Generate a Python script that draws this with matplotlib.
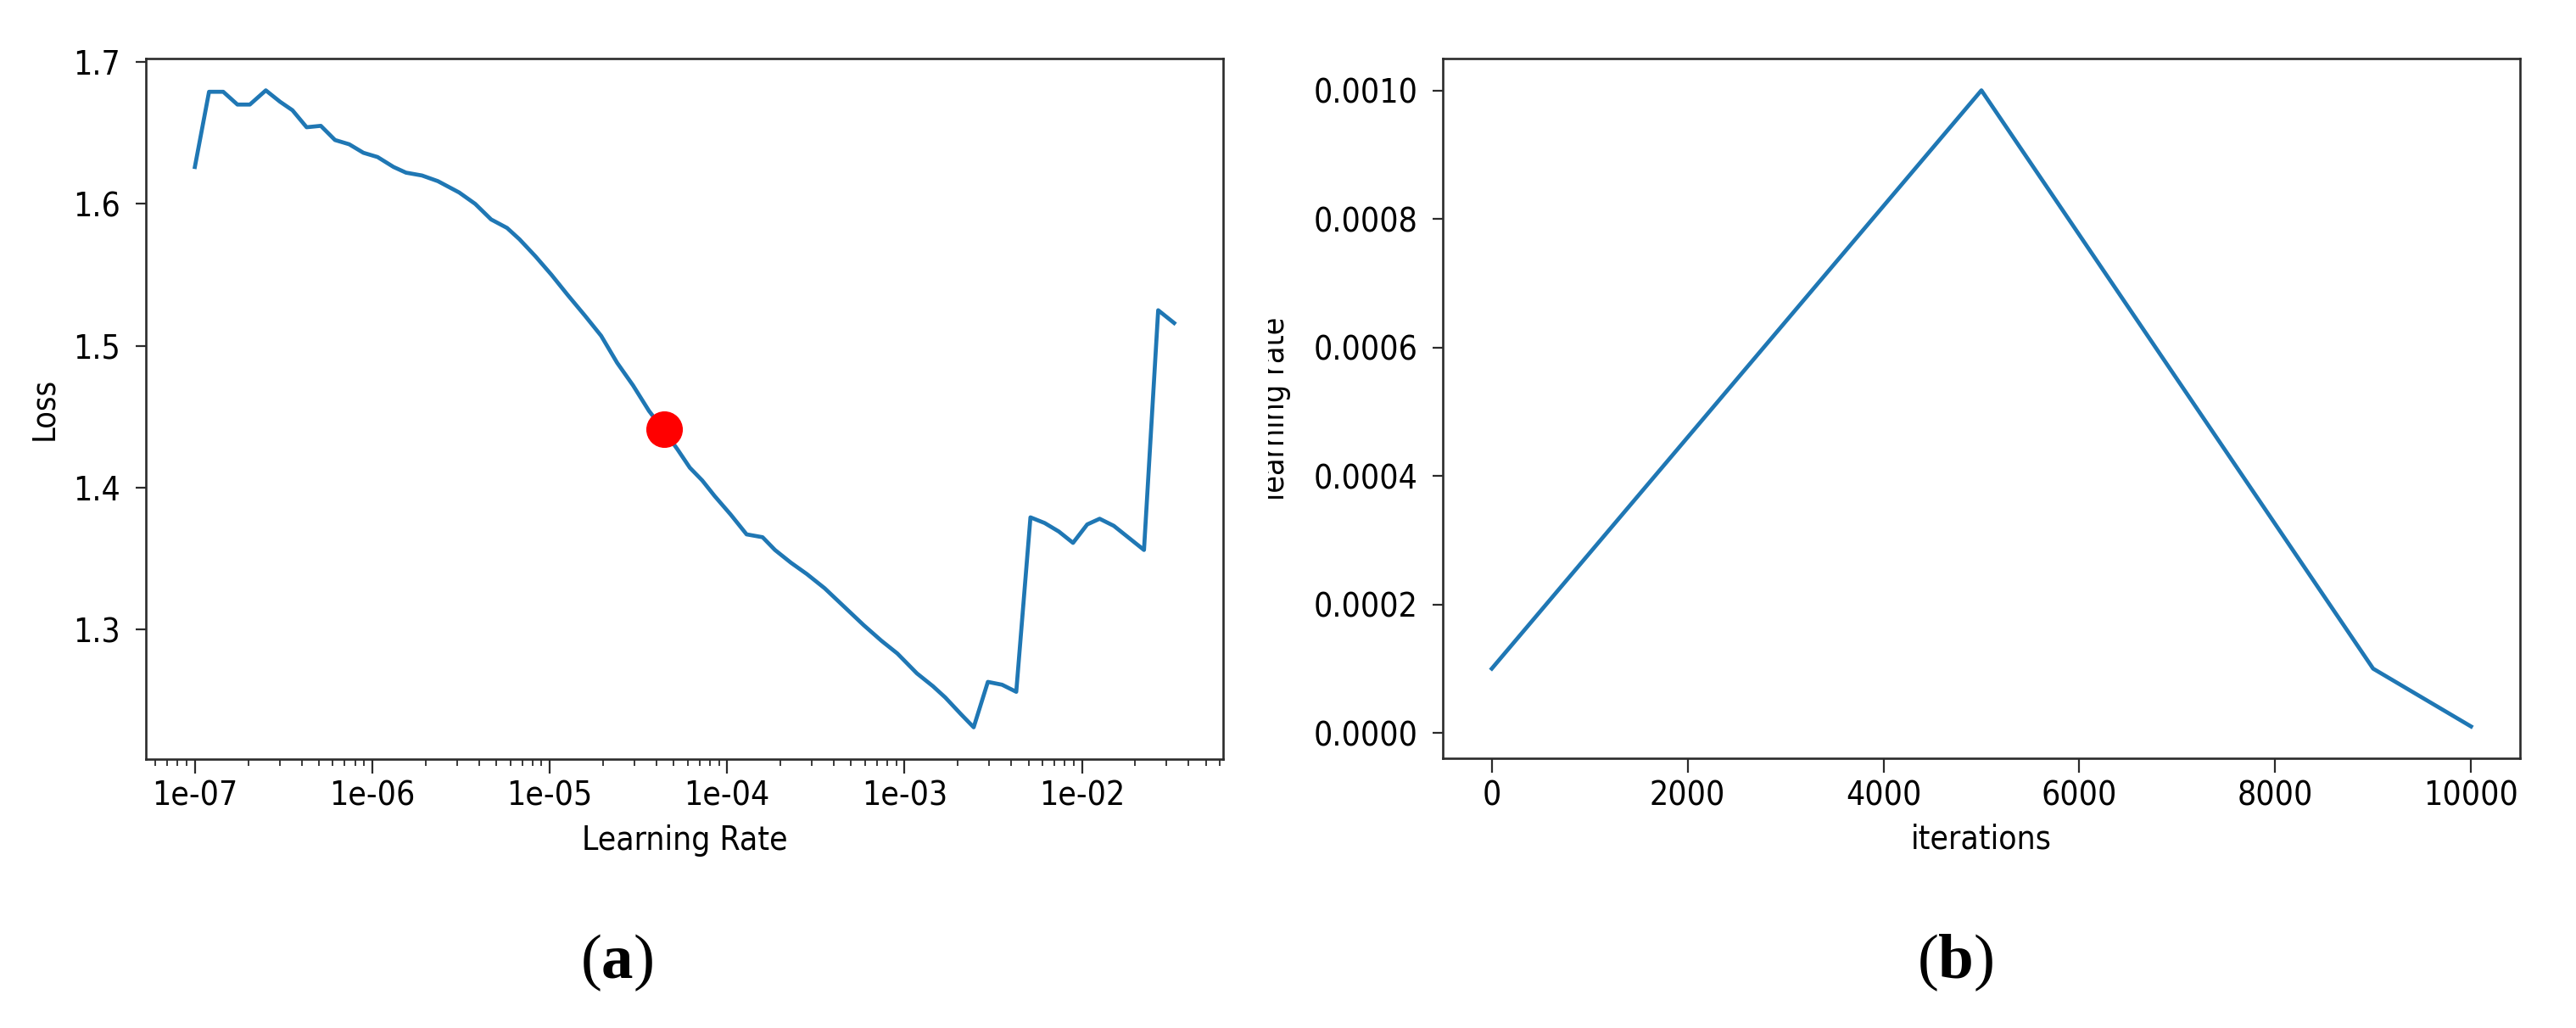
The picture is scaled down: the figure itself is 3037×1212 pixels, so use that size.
import matplotlib
matplotlib.use("Agg")
import matplotlib.pyplot as plt
from matplotlib.ticker import LogLocator, NullFormatter, FormatStrFormatter
from matplotlib.transforms import Bbox, TransformedBbox
import numpy as np

# Dados (a): log10 da taxa de aprendizado e perda
log_lr = [-7.00, -6.92, -6.84, -6.76, -6.69, -6.60, -6.52, -6.45, -6.37, -6.29,
          -6.21, -6.13, -6.05, -5.97, -5.88, -5.81, -5.72, -5.63, -5.51, -5.42,
          -5.33, -5.24, -5.17, -5.08, -4.99, -4.90, -4.80, -4.71, -4.62, -4.53,
          -4.44, -4.36, -4.28, -4.21, -4.14, -4.07, -3.98, -3.89, -3.80, -3.73,
          -3.64, -3.55, -3.45, -3.34, -3.23, -3.13, -3.04, -2.93, -2.84, -2.77,
          -2.68, -2.61, -2.53, -2.45, -2.37, -2.29, -2.21, -2.13, -2.05, -1.97,
          -1.90, -1.82, -1.74, -1.65, -1.57, -1.48]
loss = [1.626, 1.679, 1.679, 1.670, 1.670, 1.680, 1.672, 1.666, 1.654, 1.655,
        1.645, 1.642, 1.636, 1.633, 1.626, 1.622, 1.620, 1.616, 1.608, 1.600,
        1.589, 1.583, 1.575, 1.563, 1.550, 1.536, 1.521, 1.507, 1.488, 1.472,
        1.454, 1.441, 1.427, 1.414, 1.405, 1.394, 1.381, 1.367, 1.365, 1.356,
        1.347, 1.339, 1.329, 1.316, 1.303, 1.292, 1.283, 1.269, 1.260, 1.252,
        1.240, 1.231, 1.263, 1.261, 1.256, 1.379, 1.375, 1.369, 1.361, 1.374,
        1.378, 1.373, 1.365, 1.356, 1.525, 1.516]
ponto_lr = 10 ** -4.355
ponto_loss = 1.441

# Dados do grafico (b)
iteracoes = [0, 5000, 9000, 10000]
taxa = [0.0001, 0.001, 0.0001, 0.00001]

plt.rcParams["font.family"] = ["DejaVu Sans"]
plt.rcParams["font.stretch"] = "condensed"
plt.rcParams["font.size"] = 28
plt.rcParams["mathtext.fontset"] = "custom"
plt.rcParams["mathtext.rm"] = "Liberation Serif"
plt.rcParams["mathtext.bf"] = "Liberation Serif:bold"
AZUL = "#1f77b4"
SPINE = "#2b2b2b"

W, H = 3037, 1212
fig = plt.figure(figsize=(W / 100, H / 100), dpi=100)
ax1 = fig.add_axes([172 / W, 1 - 895 / H, 1270 / W, 826 / H])
ax2 = fig.add_axes([1701 / W, 1 - 894 / H, 1270 / W, 825 / H])

# (a)
ax1.plot(10 ** np.array(log_lr), loss, color=AZUL, lw=3.4)
ax1.plot(ponto_lr, ponto_loss, "o", color="red", markersize=30)
ax1.set_xscale("log")
ax1.xaxis.set_major_locator(LogLocator(base=10, numticks=20))
ax1.xaxis.set_major_formatter(FormatStrFormatter("%.0e"))
ax1.xaxis.set_minor_locator(LogLocator(base=10, subs=np.arange(2, 10), numticks=20))
ax1.xaxis.set_minor_formatter(NullFormatter())
ax1.set_yticks([1.3, 1.4, 1.5, 1.6, 1.7])
ax1.set_xlabel("Learning Rate", labelpad=10)
ax1.set_ylabel("Loss", fontsize=27)
ax1.yaxis.set_label_coords(-0.08, 0.5)

# (b)
ax2.plot(iteracoes, taxa, color=AZUL, lw=3.4)
ax2.set_xticks([0, 2000, 4000, 6000, 8000, 10000])
ax2.set_yticks([0.0, 0.0002, 0.0004, 0.0006, 0.0008, 0.0010])
ax2.yaxis.set_major_formatter(FormatStrFormatter("%.4f"))
ax2.set_xlabel("iterations", labelpad=10)
ax2.set_ylabel("learning rate", fontsize=27)
ax2.yaxis.set_label_coords(-0.141, 0.5)
# no original o rotulo aparece cortado a esquerda
rotulo = ax2.yaxis.label
rotulo.set_clip_box(TransformedBbox(Bbox([[1495 / W, 0], [1, 1]]), fig.transFigure))
rotulo.set_clip_on(True)

for ax in (ax1, ax2):
    for s in ax.spines.values():
        s.set_color(SPINE)
        s.set_linewidth(1.9)
    ax.tick_params(axis="x", which="major", length=12, width=1.6, pad=6, color=SPINE)
    ax.tick_params(axis="x", which="minor", length=6, width=1.3, color=SPINE)
    ax.tick_params(axis="y", which="major", length=8.5, width=1.6, pad=13, color=SPINE)

fig.text(727 / W, 1 - 1135 / H, r"($\mathbf{a}$)", ha="center", va="center",
         fontsize=54, family="Liberation Serif", fontstretch="normal")
fig.text(2305 / W, 1 - 1135 / H, r"($\mathbf{b}$)", ha="center", va="center",
         fontsize=54, family="Liberation Serif", fontstretch="normal")

fig.savefig("out.png", dpi=100)
